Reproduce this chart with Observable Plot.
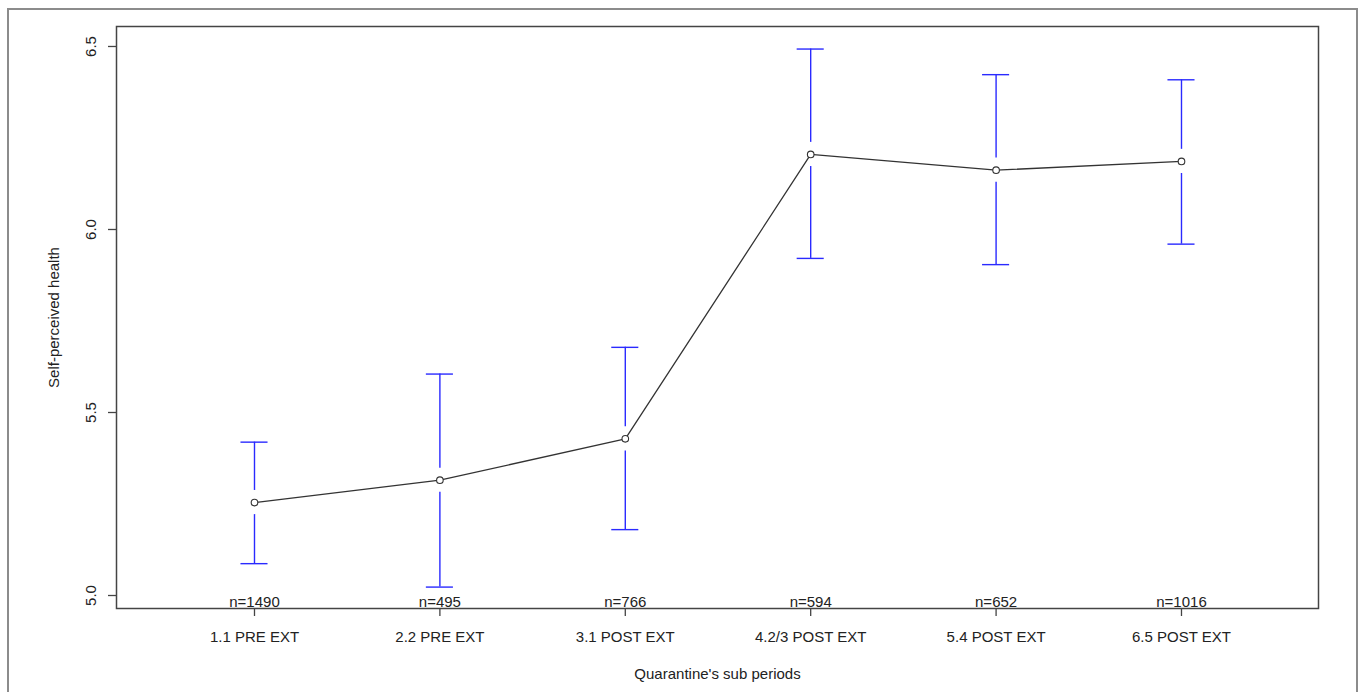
<!DOCTYPE html>
<html>
<head>
<meta charset="utf-8">
<script src="https://cdn.jsdelivr.net/npm/d3@7"></script>
<script src="https://cdn.jsdelivr.net/npm/@observablehq/plot@0.6"></script>
<style>
  html, body { margin: 0; padding: 0; background: #fff; overflow: hidden; }
  #wrap { position: relative; width: 1360px; height: 692px; }
  #border { position: absolute; left: 7px; top: 8px; width: 1347px; height: 700px;
            border: 2px solid #8c8c8c; pointer-events: none; z-index: 2; }
  #chart svg { background: transparent; }
</style>
</head>
<body>
<div id="wrap"><div id="border"></div><div id="chart"></div></div>
<script>
// ---- data ----
const periods = ["1.1 PRE EXT", "2.2 PRE EXT", "3.1 POST EXT", "4.2/3 POST EXT", "5.4 POST EXT", "6.5 POST EXT"];
const means   = [5.254, 5.315, 5.428, 6.205, 6.162, 6.186];
const upper   = [5.419, 5.605, 5.678, 6.493, 6.423, 6.409];
const lower   = [5.087, 5.023, 5.180, 5.921, 5.904, 5.960];
const counts  = [1490, 495, 766, 594, 652, 1016];
const yTicks  = [5.0, 5.5, 6.0, 6.5];

const rows = periods.map((p, i) => ({
  i: i + 1, period: p, mean: means[i], hi: upper[i], lo: lower[i], n: counts[i]
}));

// style constants
const gap = 0.033;     // gap of the CI bar around the point (y units)
const cap = 0.073;     // half width of the CI caps (x units)
const font = "'Liberation Sans', Arial, sans-serif";
const blue = "#2a2aff";

const chart = Plot.plot({
  width: 1360,
  height: 692,
  marginLeft: 116,
  marginTop: 26,
  marginRight: 42,
  marginBottom: 84,
  style: { fontFamily: font, fontSize: "15px", color: "#222", background: "transparent" },
  x: { type: "linear", domain: [0.2557, 6.739], axis: null },
  y: { type: "linear", domain: [4.9645, 6.5546], axis: null },
  marks: [
    // y axis ticks and labels
    Plot.axisY({ ticks: yTicks, tickSize: 8, tickFormat: () => "", label: null, stroke: "#444", strokeWidth: 1.3 }),
    Plot.text(yTicks, { y: d => d, text: d => d3.format(".1f")(d), frameAnchor: "left", dx: -25,
      rotate: -90, textAnchor: "middle", lineAnchor: "middle", fill: "#222", fontSize: 15 }),
    Plot.text(["Self-perceived health"], { text: d => d, frameAnchor: "left", dx: -62, rotate: -90,
      textAnchor: "middle", lineAnchor: "middle", fill: "#222", fontSize: 15 }),
    // x axis ticks and labels
    Plot.axisX({ ticks: rows.map(d => d.i), tickSize: 8, tickFormat: () => "", label: null, stroke: "#444", strokeWidth: 1.3 }),
    Plot.text(rows, { x: "i", text: "period", frameAnchor: "bottom", lineAnchor: "bottom", dy: 33,
      fill: "#222", fontSize: 15 }),
    Plot.text(["Quarantine's sub periods"], { text: d => d, frameAnchor: "bottom", lineAnchor: "bottom",
      dy: 70, fill: "#222", fontSize: 15 }),
    // CI bars with gap around the mean
    Plot.ruleX(rows, { x: "i", y1: d => d.mean + gap, y2: "hi", stroke: blue, strokeWidth: 1.4 }),
    Plot.ruleX(rows, { x: "i", y1: "lo", y2: d => d.mean - gap, stroke: blue, strokeWidth: 1.4 }),
    Plot.ruleY(rows, { y: "hi", x1: d => d.i - cap, x2: d => d.i + cap, stroke: blue, strokeWidth: 1.4 }),
    Plot.ruleY(rows, { y: "lo", x1: d => d.i - cap, x2: d => d.i + cap, stroke: blue, strokeWidth: 1.4 }),
    // mean line and points
    Plot.line(rows, { x: "i", y: "mean", stroke: "#333", strokeWidth: 1.3 }),
    Plot.dot(rows, { x: "i", y: "mean", r: 3.3, stroke: "#333", fill: "white", strokeWidth: 1.1 }),
    // n labels
    Plot.text(rows, { x: "i", text: d => "n=" + d.n, frameAnchor: "bottom", lineAnchor: "bottom", dy: -2,
      fill: "#222", fontSize: 15 }),
    Plot.frame({ stroke: "#444", strokeWidth: 1.5 })
  ]
});
document.getElementById("chart").appendChild(chart);
</script>
</body>
</html>
